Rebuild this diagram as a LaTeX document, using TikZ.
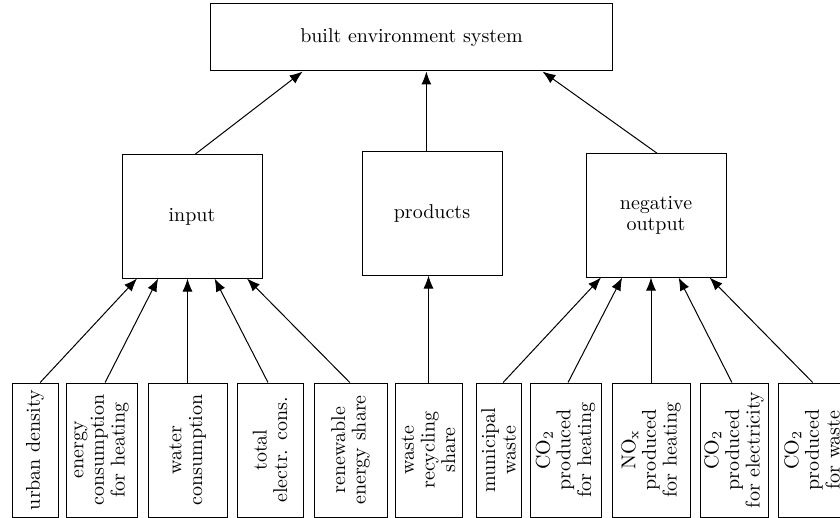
\documentclass[tikz,border=0pt]{standalone}
\usetikzlibrary{arrows.meta,calc}
\begin{document}
\begin{tikzpicture}[x=0.5pt,y=-0.5pt,box/.style={draw,line width=0.5pt,align=center,inner sep=2pt,font=\fontsize{10}{10.3}\selectfont},leaf/.style={box,rotate=90,minimum width=67pt},mid/.style={box,minimum width=70pt,minimum height=61.5pt},arr/.style={-{Latex[length=6.5pt,width=5pt]},line width=0.5pt}]
\useasboundingbox (0,0) rectangle (840,518);
% top and middle level
\node[box,minimum width=201pt,minimum height=33.5pt] (system) at (411.5,37.5) {built environment system};
\node[mid] (input) at (192,216.5) {input};
\node[mid] (products) at (432,213.5) {products};
\node[mid] (negout) at (656,215.5) {negative\\output};
% indicators
\node[leaf,minimum height=23pt] (urban) at (35,450) {urban density};
\node[leaf,minimum height=35.5pt] (energy) at (101.5,450) {energy\\consumption\\for heating};
\node[leaf,minimum height=39.5pt] (water) at (187.5,450) {water\\consumption};
\node[leaf,minimum height=33pt] (electr) at (270,450) {total\\electr. cons.};
\node[leaf,minimum height=36.5pt] (renew) at (350.5,450) {renewable\\energy share};
\node[leaf,minimum height=33.5pt] (recycl) at (428.5,450) {waste\\recycling\\share};
\node[leaf,minimum height=22.5pt] (munic) at (498.5,450) {municipal\\waste};
\node[leaf,minimum height=35.5pt] (coheat) at (565.5,450) {CO$_2$\\produced\\for heating};
\node[leaf,minimum height=39pt] (noxheat) at (651,450) {NO$_{\mathrm{x}}$\\produced\\for heating};
\node[leaf,minimum height=34pt] (coelec) at (734,450) {CO$_2$\\produced\\for electricity};
\node[leaf,minimum height=34pt] (cowaste) at (812,450) {CO$_2$\\produced\\for waste};
% arrows to the system
\coordinate (ptop) at ($(products.north west)!.46!(products.north east)$);
\draw[arr] ($(input.north west)!.52!(input.north east)$) -- ($(system.south west)!.23!(system.south east)$);
\draw[arr] (ptop) -- (ptop |- system.south);
\draw[arr] ($(negout.north west)!.51!(negout.north east)$) -- ($(system.south west)!.825!(system.south east)$);
% arrows from the indicators
\foreach \b/\s/\f in {urban/.61/.11,energy/.55/.26,electr/.47/.66,renew/.49/.89}
  \draw[arr] ($(\b.north east)!\s!(\b.south east)$) -- ($(input.south west)!\f!(input.south east)$);
\draw[arr] (water.east) -- (water.east |- input.south);
\draw[arr] (recycl.east) -- (recycl.east |- products.south);
\foreach \b/\s/\f in {munic/.6/.11,coheat/.535/.26,coelec/.47/.66,cowaste/.51/.88}
  \draw[arr] ($(\b.north east)!\s!(\b.south east)$) -- ($(negout.south west)!\f!(negout.south east)$);
\draw[arr] (noxheat.east) -- (noxheat.east |- negout.south);
\end{tikzpicture}
\end{document}
